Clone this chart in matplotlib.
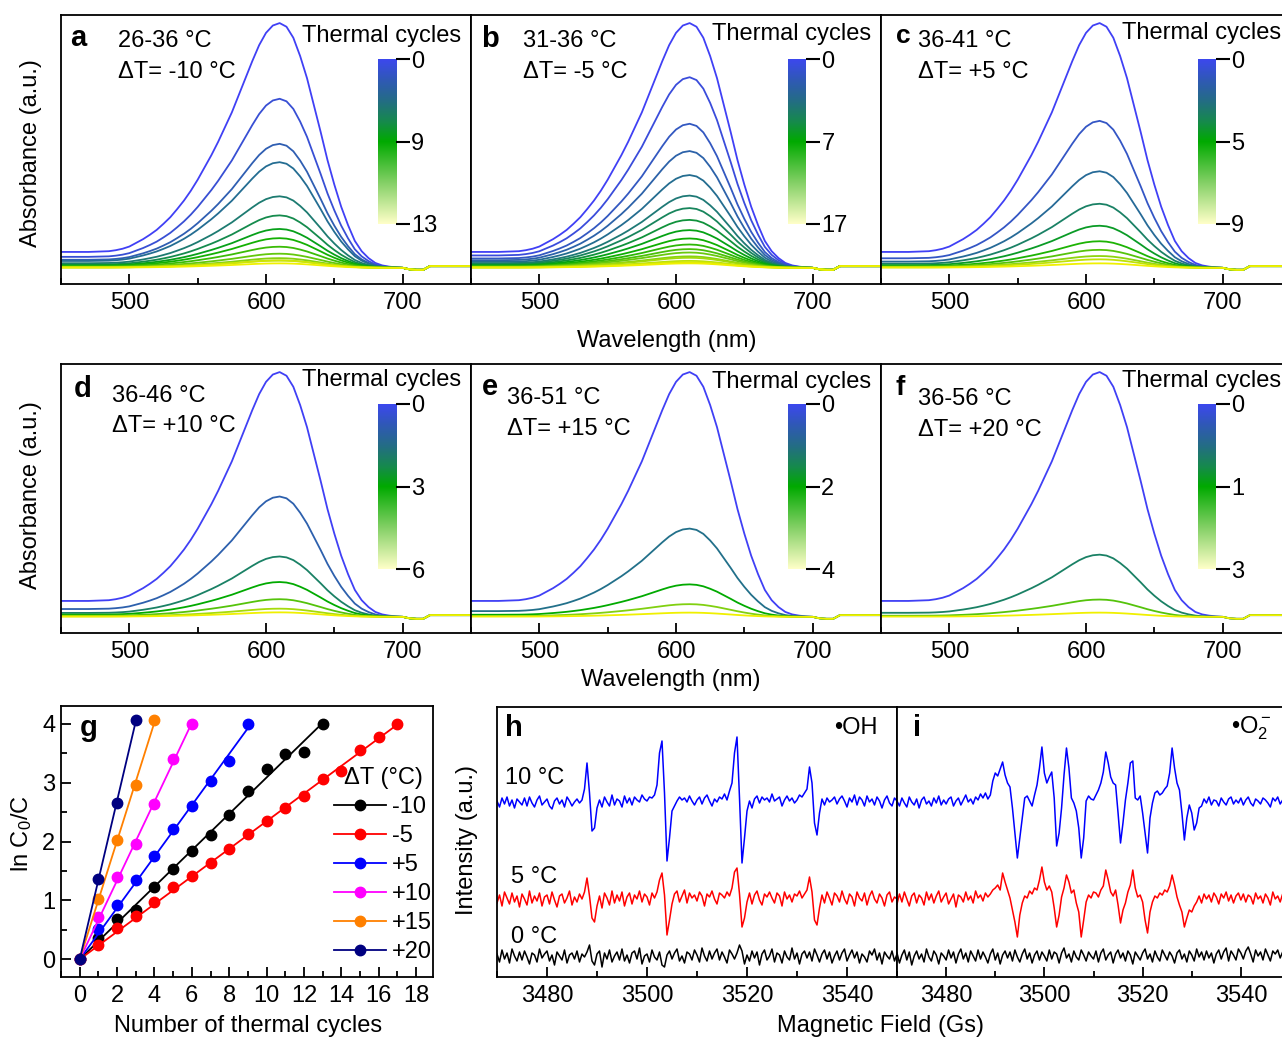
import numpy as np
import matplotlib
matplotlib.use('Agg')
import matplotlib.pyplot as plt
from matplotlib.colors import LinearSegmentedColormap
from matplotlib.lines import Line2D
from matplotlib.ticker import MultipleLocator

plt.rcParams['font.family'] = ['Liberation Sans', 'DejaVu Sans']
plt.rcParams['mathtext.fontset'] = 'custom'
plt.rcParams['mathtext.rm'] = 'Liberation Sans'
plt.rcParams['mathtext.it'] = 'Liberation Sans:italic'
plt.rcParams['font.size'] = 17
plt.rcParams['axes.linewidth'] = 1.3

# ---- kinetics: ln(C0/C) after each thermal cycle, one series per temperature step
dT_labels = ['-10', '-5', '+5', '+10', '+15', '+20']
dT_colors = ['black', 'red', 'blue', 'magenta', '#ff8000', '#000080']
ln_ratio = [
    [0, 0.37, 0.68, 0.84, 1.23, 1.54, 1.84, 2.11, 2.45, 2.85, 3.23, 3.49, 3.52, 4.00],
    [0, 0.25, 0.53, 0.74, 0.97, 1.22, 1.41, 1.63, 1.87, 2.12, 2.35, 2.57, 2.77, 3.06,
     3.19, 3.56, 3.77, 4.00],
    [0, 0.51, 0.93, 1.34, 1.76, 2.22, 2.61, 3.03, 3.36, 4.00],
    [0, 0.71, 1.40, 1.95, 2.63, 3.40, 4.00],
    [0, 1.02, 2.02, 2.96, 4.06],
    [0, 1.37, 2.65, 4.06],
]

# ---- UV-vis panels a-f
panel_letters = ['a', 'b', 'c', 'd', 'e', 'f']
range_labels = ['26-36 °C', '31-36 °C', '36-41 °C', '36-46 °C', '36-51 °C', '36-56 °C']
delta_labels = ['ΔT= -10 °C', 'ΔT= -5 °C', 'ΔT= +5 °C',
                'ΔT= +10 °C', 'ΔT= +15 °C', 'ΔT= +20 °C']
cbar_ticks = [[0, 9, 13], [0, 7, 17], [0, 5, 9], [0, 3, 6], [0, 2, 4], [0, 1, 3]]

# normalised dye band (peak = 1), 450-750 nm every 5 nm
wavelength = np.arange(450, 751, 5)
band = [0.065, 0.065, 0.065, 0.065, 0.065, 0.066, 0.067, 0.068, 0.072, 0.078,  # 450-495
        0.087, 0.102, 0.117, 0.135, 0.155, 0.180, 0.207, 0.240, 0.275, 0.315,  # 500-545
        0.360, 0.410, 0.460, 0.515, 0.575, 0.635, 0.705, 0.775, 0.845, 0.910,  # 550-595
        0.960, 0.990, 1.000, 0.985, 0.940, 0.865, 0.775, 0.665, 0.555, 0.440,  # 600-645
        0.340, 0.250, 0.175, 0.110, 0.068, 0.040, 0.020, 0.010, 0.005, 0.002,  # 650-695
        0, 0, 0, 0, 0, 0, 0, 0, 0, 0, 0]                                       # 700-750
# lamp-change step shared by every spectrum (700-750 nm)
step_tail = [0, -0.006, -0.008, -0.008, 0.007, 0.007, 0.007, 0.007, 0.007, 0.007, 0.007]

# ---- EPR spectra, 3470-3550 Gs every 0.5 Gs
field = np.arange(3470, 3550.1, 0.5)
epr_temps = ['10 °C', '5 °C', '0 °C']
epr_colors = ['blue', 'red', 'black']
oh_10C = [2, -4, 5, -1, 6, -3, 3, -5, 4, 1,          # 3470
          -2, 5, -3, 6, 0, -4, 3, 7, -2, 1,          # 3475
          4, -3, -6, 2, 5, -1, 3, -4, 6, 2,          # 3480
          -3, 1, 4, 0, 3, 14, 40, 10, -28, -25,      # 3485
          -5, 3, -4, 6, 1, -3, 8, -2, 4, 2,          # 3490
          -4, 7, 0, 5, -2, 6, 3, 1, 8, 4,            # 3495
          2, 6, 5, 8, 18, 50, 62, 10, -58, -35,      # 3500
          -8, -3, 2, 6, 3, 5, 1, 7, 2, -2,           # 3505
          3, 6, -1, 5, 8, 2, -3, 4, 1, 6,            # 3510
          4, 9, 3, 12, 20, 50, 66, 5, -60, -35,      # 3515
          -8, 2, -5, 4, 7, 0, 6, 3, 5, 1,            # 3520
          9, 2, 4, 6, -3, 3, 7, 2, 5, 0,             # 3525
          3, 8, 6, 10, 14, 36, 20, -20, -32, -10,    # 3530
          4, -2, 5, 1, 3, 6, -1, 4, 7, 2,            # 3535
          -4, 5, 1, 8, -2, 6, 3, -3, 7, 1,           # 3540
          4, -2, 6, 2, -5, 3, 7, 0, -3, 5,           # 3545
          2]
oh_5C = [-3, 5, -6, 8, 2, -4, 7, -2, 4, -7,
         6, 1, -5, 9, -3, 4, -1, 7, -6, 3,
         5, -4, 8, 0, -7, 4, 6, -3, 2, 9,
         -5, 3, -2, 6, 1, 8, 22, 4, -18, -22,
         -6, 4, -8, 7, 2, -5, 9, -3, 5, -1,
         8, -6, 3, 7, -4, 5, 1, 9, -2, 6,
         3, -5, 7, 2, 8, 20, 27, 5, -35, -20,
         -4, 6, 9, -2, 4, 10, -3, 7, 2, 5,
         -1, 8, 4, -6, 6, 3, 9, 1, -4, 7,
         5, 2, 8, 4, 12, 28, 32, 6, -27, -18,
         -2, 7, -4, 5, 9, 0, -5, 6, 3, 8,
         2, -3, 7, 4, -6, 8, 1, 5, -2, 6,
         4, 9, 2, 6, 10, 23, 8, -20, -25, -8,
         5, -3, 8, 2, -5, 7, 4, -2, 9, 1,
         -4, 6, 3, -6, 8, 2, -1, 7, -5, 4,
         9, 1, -3, 6, 2, -6, 5, 8, -2, 3,
         1]
oh_0C = [3, -5, 7, -2, 4, -6, 8, 1, -4, 5,
         -3, 6, 0, -7, 4, 2, -5, 8, -1, 3,
         6, -4, 2, -8, 5, 1, -3, 7, -6, 2,
         4, -2, 6, -5, 3, 0, 5, 12, -4, -8,
         3, 6, -10, 4, -2, 7, -5, 1, 5, -3,
         8, -4, 2, -6, 4, 6, -2, 9, -7, 1,
         3, -5, 7, 0, -3, 5, -8, -10, 2, 6,
         -2, 4, 8, -4, 1, -6, 5, 3, -3, 7,
         2, -5, 9, 1, -4, 6, -2, 4, 8, -3,
         5, 0, -6, 7, 3, -2, 4, 12, 6, -7,
         2, -4, 6, -1, 5, -8, 3, 7, -3, 1,
         8, -5, 4, 2, -6, 6, 0, -3, 9, -2,
         4, -7, 3, 6, -1, 5, -4, 8, 2, -5,
         3, 7, -2, 5, -6, 1, 6, -3, 4, 8,
         -4, 2, 7, -1, 5, -6, 3, 0, -5, 6,
         2, 8, -3, 4, -7, 5, 1, -2, 6, -4,
         3]
o2_10C = [2, -3, 5, 0, -4, 6, 1, -2, 4, -5,          # 3470
          3, 6, -1, 2, -3, 5, 0, 7, -2, 3,           # 3475
          -1, 4, 6, -3, 2, 5, -2, 3, 8, 1,           # 3480
          4, -1, 6, 3, 9, 5, 10, 4, 8, 22,           # 3485
          30, 27, 34, 41, 28, 20, 16, -5, -30, -55,  # 3490
          -35, -15, 5, 7, 2, -3, 8, 18, 35, 56,      # 3495
          30, 20, 26, 31, 5, -43, -30, -5, 28, 55,   # 3500
          35, 5, 0, -8, -25, -55, -35, 2, 7, 4,      # 3505
          3, 8, 13, 20, 31, 51, 40, 26, 20, 18,      # 3510
          -10, -40, -20, 3, 20, 40, 42, 5, 3, 7,     # 3515
          -10, -30, -50, -15, 0, 10, 12, 8, 10, 14,  # 3520
          17, 30, 55, 35, 20, 13, -10, -37, -15, -2, # 3525
          -10, -27, -20, -5, -3, 4, 0, 6, -2, 3,     # 3530
          2, -3, 5, 1, -2, 4, 6, -1, 3, 0,           # 3535
          5, -2, 3, 6, 0, -3, 4, 2, -1, 5,           # 3540
          3, 0, -4, 5, 2, 6, -1, 3, 7, 2,            # 3545
          4]
o2_5C = [-4, 6, -2, 8, 1, -6, 4, 7, -3, 5,
         2, -5, 8, 0, 6, -3, 4, 9, -2, 3,
         7, -4, 1, 6, -7, 5, 3, -2, 8, 0,
         4, -3, 9, 2, 5, -1, 7, 3, 6, 10,
         12, 15, 10, 27, 18, 10, 2, -10, -22, -37,
         -15, -3, 4, 2, 9, 6, 12, 10, 20, 33,
         18, 10, 14, 8, -8, -27, -15, 3, 12, 25,
         18, 7, 10, -3, -12, -37, -20, -2, 5, 2,
         8, 7, 3, 10, 14, 30, 20, 8, 4, 10,
         -5, -23, -10, -3, 8, 15, 30, 12, 3, 5,
         -2, -20, -33, -12, -2, 4, 2, 7, 5, 10,
         8, 14, 25, 15, 3, -5, -12, -27, -18, -10,
         -12, -6, -2, 4, -3, 6, 1, 5, -2, 7,
         3, -4, 6, 2, 8, -1, 5, -3, 4, 7,
         0, 6, -2, 5, 3, -4, 7, 1, 4, -3,
         6, 2, -5, 8, 1, 4, -2, 6, 3, -1,
         4]
o2_0C = [4, -6, 2, 7, -3, 5, -8, 1, 6, -2,
         3, -5, 8, 0, -4, 6, 2, -7, 4, 1,
         -3, 7, -1, 5, -6, 3, 8, -2, 4, -5,
         6, 1, -4, 7, -2, 5, 0, -6, 3, 8,
         -3, 4, -7, 2, 6, -1, 5, -4, 7, 0,
         -5, 3, 8, -2, 4, -6, 2, 6, -3, 5,
         1, -4, 7, -2, 5, 3, -6, 4, 9, -1,
         3, -5, 6, 0, -3, 7, 2, -4, 5, 1,
         -2, 6, -5, 4, 8, -3, 2, 5, -6, 3,
         7, -1, 4, -4, 6, 2, -7, 5, 1, -3,
         4, 8, -2, 3, -5, 6, 0, -4, 7, 2,
         -3, 5, 1, -6, 4, 7, -2, 3, -5, 6,
         2, -4, 8, 0, 5, -3, 6, -1, 4, -6,
         3, 7, -2, 5, 9, -4, 6, 2, -3, 8,
         4, -2, 6, 10, 3, -5, 7, 1, 5, -3,
         8, 2, -4, 6, 3, 7, -1, 5, 9, 2,
         4]
epr_offsets = [154, 57, 0]

line_cmap = LinearSegmentedColormap.from_list('cycles', [
    (0, '#4040f5'), (0.12, '#3358c0'), (0.25, '#22708a'), (0.38, '#168a50'),
    (0.5, '#00aa00'), (0.75, '#80d010'), (1, '#f0f000')])
bar_cmap = LinearSegmentedColormap.from_list('cycles_bar', [
    (0, '#3c48ee'), (0.12, '#3058b8'), (0.25, '#246c86'), (0.38, '#168a4c'),
    (0.5, '#00aa00'), (0.75, '#84d066'), (1, '#ffffc8')])

W, H = 1282, 1038
fig = plt.figure(figsize=(W / 100, H / 100), dpi=100)


def px_box(left, top, width, height):
    return [left / W, 1 - (top + height) / H, width / W, height / H]


def px_text(x, y, s, **kw):
    fig.text(x / W, 1 - y / H, s, **kw)


# per-panel text placement (pixels from the axes top-left corner)
letter_pos = [(9, 31, 21), (10, 32, 21), (15, 28, 19), (13, 33, 21), (11, 31, 21), (15, 31, 20)]
label_x = [57, 52, 37, 51, 36, 37]
label_y = [(32, 63), (32, 63), (32, 63), (38, 68), (40, 71), (41, 72)]
title_y = [27, 25, 24, 22, 24, 23]

lefts = [61, 471, 881]
tops = [15, 364]
for k in range(6):
    left, top = lefts[k % 3], tops[k // 3]
    ax = fig.add_axes(px_box(left, top, 410, 269))
    lnr = np.array(ln_ratio[k])
    last = len(lnr) - 1
    floor = np.zeros(len(wavelength))
    floor[-len(step_tail):] = step_tail
    for n in range(last + 1):
        absorb = np.exp(-lnr[n]) * np.array(band) + floor
        ax.plot(wavelength, absorb, color=line_cmap(n / last), lw=1.3)
    ax.set_xlim(450, 750)
    ax.set_ylim(-0.066, 1.033)
    ax.set_yticks([])
    ax.xaxis.set_major_locator(MultipleLocator(100))
    ax.xaxis.set_minor_locator(MultipleLocator(50))
    ax.tick_params(axis='x', which='major', direction='in', length=7, width=1.3,
                   pad=6, labelsize=17)
    ax.tick_params(axis='x', which='minor', direction='in', length=4, width=1.3)

    lx, ly, lsize = letter_pos[k]
    px_text(left + lx, top + ly, panel_letters[k], fontsize=lsize, fontweight='bold',
            va='baseline')
    px_text(left + label_x[k], top + label_y[k][0], range_labels[k], va='baseline')
    px_text(left + label_x[k], top + label_y[k][1], delta_labels[k], va='baseline')
    px_text(left + 241, top + title_y[k], 'Thermal cycles', va='baseline')

    # colour scale for the cycle number
    cb_top = top + (44 if k < 3 else 40)
    cax = fig.add_axes(px_box(left + 317, cb_top, 18, 165))
    cax.imshow(np.linspace(0, 1, 256)[:, None], aspect='auto', cmap=bar_cmap,
               extent=[0, 1, 1, 0])
    cax.set_ylim(1, 0)
    cax.set_xticks([])
    cax.set_yticks([0, 0.5, 1])
    cax.set_yticklabels([str(t) for t in cbar_ticks[k]])
    cax.yaxis.tick_right()
    cax.tick_params(axis='y', length=10, width=1.5, pad=1, labelsize=17)
    for tick, pos in zip(cax.yaxis.get_major_ticks(), [0, 0.5, 1]):
        tick.tick2line.set_color(bar_cmap(pos))
    for s in cax.spines.values():
        s.set_visible(False)

for yc in (153, 495):
    px_text(31, yc, 'Absorbance (a.u.)', rotation=90, ha='center', va='center')
px_text(667, 341, 'Wavelength (nm)', ha='center', va='center')
px_text(671, 680, 'Wavelength (nm)', ha='center', va='center')

# ---- panel g: first-order fits
axg = fig.add_axes(px_box(61, 706, 372, 271))
handles = []
for lnr, c, lab in zip(ln_ratio, dT_colors, dT_labels):
    y = np.array(lnr)
    x = np.arange(len(y))
    slope = np.sum(x * y) / np.sum(x * x)
    axg.plot([0, x[-1]], [0, slope * x[-1]], color=c, lw=1.3)
    axg.plot(x, y, 'o', color=c, ms=7.5)
    handles.append(Line2D([0], [0], color=c, lw=1.3, marker='o', ms=7.5))
axg.set_xlim(-1, 18.9)
axg.set_ylim(-0.3, 4.3)
axg.xaxis.set_major_locator(MultipleLocator(2))
axg.xaxis.set_minor_locator(MultipleLocator(1))
axg.yaxis.set_major_locator(MultipleLocator(1))
axg.yaxis.set_minor_locator(MultipleLocator(0.5))
axg.tick_params(which='major', direction='in', length=7, width=1.3, labelsize=17)
axg.tick_params(axis='x', which='major', pad=6)
axg.tick_params(axis='y', which='major', pad=4)
axg.tick_params(which='minor', direction='in', length=4, width=1.3)
axg.text(0.05, 0.92, 'g', transform=axg.transAxes, fontsize=21, fontweight='bold',
         va='center')
leg = axg.legend(handles, dT_labels, title='ΔT (°C)', loc='upper left',
                 bbox_to_anchor=(0.735, 0.775), frameon=False, fontsize=17,
                 title_fontsize=17, handlelength=2.2, handletextpad=0.25,
                 labelspacing=0.3, borderpad=0, borderaxespad=0)
px_text(22, 834, 'ln C$_0$/C', rotation=90, ha='center', va='center')
px_text(248, 1026, 'Number of thermal cycles', ha='center', va='center')

# ---- panels h and i: EPR spin trapping
epr_sets = [[oh_10C, oh_5C, oh_0C], [o2_10C, o2_5C, o2_0C]]
boxes = [px_box(497, 707, 400, 270), px_box(897, 707, 393, 270)]
for j in range(2):
    ax = fig.add_axes(boxes[j])
    for trace, c, off in zip(epr_sets[j], epr_colors, epr_offsets):
        ax.plot(field, np.array(trace) + off, color=c, lw=1.1)
    ax.set_xlim(3470, 3550)
    ax.set_ylim(-20, 250)
    ax.set_yticks([])
    ax.xaxis.set_major_locator(MultipleLocator(20))
    ax.xaxis.set_minor_locator(MultipleLocator(10))
    ax.tick_params(axis='x', which='major', direction='in', length=7, width=1.3,
                   pad=6, labelsize=17)
    ax.tick_params(axis='x', which='minor', direction='in', length=4, width=1.3)
    if j == 0:
        ax.text(0.02, 0.922, 'h', transform=ax.transAxes, fontsize=21,
                fontweight='bold', va='center')
        ax.text(0.952, 0.922, '•OH', transform=ax.transAxes, ha='right', va='center')
        ax.text(0.02, 0.737, epr_temps[0], transform=ax.transAxes, va='center')
        ax.text(0.035, 0.37, epr_temps[1], transform=ax.transAxes, va='center')
        ax.text(0.035, 0.148, epr_temps[2], transform=ax.transAxes, va='center')
    else:
        ax.text(0.04, 0.922, 'i', transform=ax.transAxes, fontsize=21,
                fontweight='bold', va='center')
        ax.text(0.954, 0.922, '•O$_2^-$', transform=ax.transAxes, ha='right',
                va='center')
px_text(467, 840, 'Intensity (a.u.)', rotation=90, ha='center', va='center')
px_text(881, 1026, 'Magnetic Field (Gs)', ha='center', va='center')

fig.savefig('out.png', dpi=100)
